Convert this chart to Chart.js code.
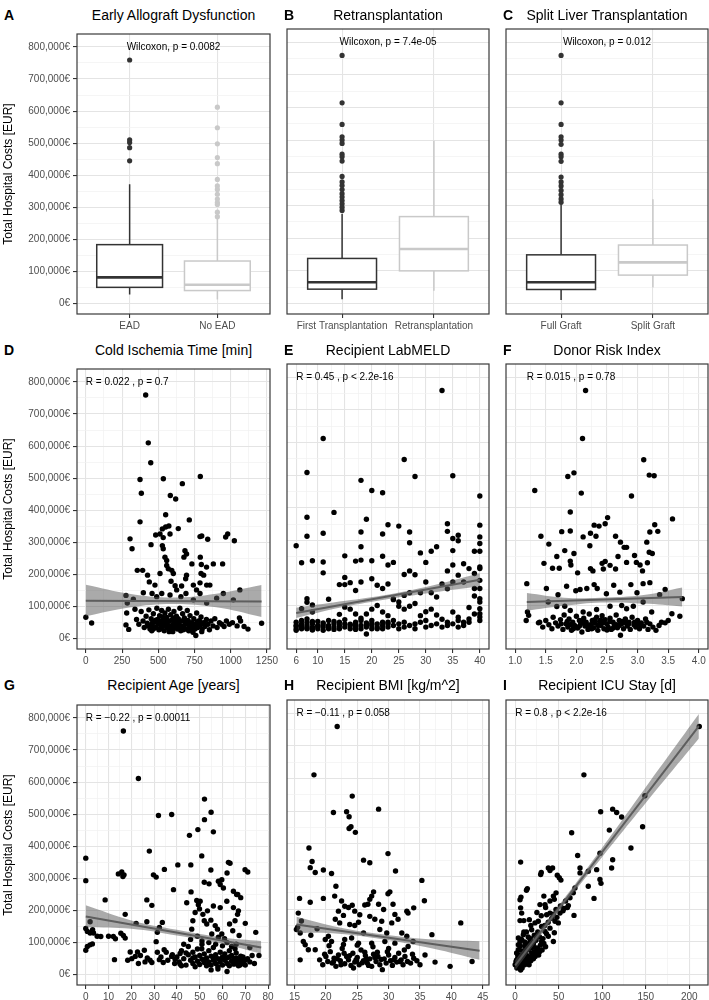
<!DOCTYPE html>
<html>
<head>
<meta charset="utf-8">
<script src="https://cdn.jsdelivr.net/npm/chart.js@4.4.0/dist/chart.umd.min.js"></script>
<style>
  body { margin: 0; background: #fff; }
  #fig { position: relative; width: 709px; height: 1000px; overflow: hidden; background: #fff;
         font-family: "Liberation Sans", Arial, sans-serif; }
  #fig canvas { position: absolute; }
  .ttl { position: absolute; height: 16px; line-height: 16px; font-size: 14px; color: #000;
         white-space: nowrap; transform: translateX(-50%); }
  .tag { position: absolute; height: 16px; line-height: 16px; font-size: 14px; font-weight: bold; color: #000; }
</style>
</head>
<body>
<div id="fig"></div>
<script>
// ---- values (costs in thousand EUR) ----
const costTicks = [0, 100, 200, 300, 400, 500, 600, 700, 800];

// box plots: [lower whisker, Q1, median, Q3, upper whisker]
const eadGroups = ['EAD', 'No EAD'];
const eadStats = [[29, 51, 82, 184, 372], [13, 41, 59, 133, 265]];
const eadOutliers = [[759, 510, 502, 486, 445],
  [612, 548, 498, 455, 436, 387, 367, 356, 341, 326, 315, 309, 285, 271]];

const retxGroups = ['First Transplantation', 'Retransplantation'];
const retxStats = [[13, 44, 65, 138, 275], [39, 100, 167, 266, 498]];
const retxOutliers = [[759, 614, 548, 510, 500, 490, 457, 449, 436, 389, 372, 361, 349, 336, 326, 315, 305, 295, 285], []];

const splitGroups = ['Full Graft', 'Split Graft'];
const splitStats = [[11, 43, 65, 149, 305], [49, 87, 126, 179, 319]];
const splitOutliers = [[759, 614, 548, 510, 500, 487, 457, 449, 435, 387, 372, 360, 346, 333, 320, 310], []];

const testLabels = ['Wilcoxon, p = 0.0082', 'Wilcoxon, p = 7.4e-05', 'Wilcoxon, p = 0.012'];
const corLabels = ['R = 0.022 , p = 0.7', 'R = 0.45 , p < 2.2e-16', 'R = 0.015 , p = 0.78',
  'R = \u22120.22 , p = 0.00011', 'R = \u22120.11 , p = 0.058', 'R = 0.8 , p < 2.2e-16'];

// D: cold ischemia time [min] vs cost
const ischemia = [[413,759],[431,610],[448,548],[374,496],[383,453],[535,498],[666,483],[583,446],[620,435],[714,370],
  [305,311],[319,280],[450,293],[374,364],[551,386],[790,505],
  [482,323],[512,326],[528,342],[551,348],[573,351],[638,343],[581,326],[534,315],[528,290],[534,280],[684,274],[695,264],
  [677,254],[788,318],[800,320],[841,310],[965,317],[979,326],[1025,305],[790,254],[797,231],[795,203],[833,223],[880,233],[944,233],
  [355,213],[392,213],[426,198],[438,177],[477,167],[512,203],[546,254],[558,244],[558,228],[569,218],[593,213],[604,203],
  [588,179],[616,165],[661,164],[689,187],[695,198],[732,233],[742,167],[764,152],[788,174],[834,167],[856,167],[813,198],[1063,152],
  [277,135],[286,111],[328,123],[397,143],[457,141],[489,131],[524,141],[581,136],[627,152],[656,131],[691,141],[742,121],
  [788,141],[834,111],[903,126],[949,141],[1018,121],
  [0,67],[40,49],[277,43],[296,29],[282,80],[339,92],
  [350,60],[366,45],[382,85],[395,55],[403,35],[416,70],[424,48],[435,90],[443,30],[451,62],[458,42],[466,78],[474,52],[482,35],
  [490,95],[496,60],[504,28],[509,72],[516,45],[523,88],[528,38],[535,58],[541,25],[546,80],[551,47],[558,66],[564,34],[570,92],
  [576,55],[581,40],[586,75],[592,28],[597,60],[602,45],[608,85],[614,35],[619,52],[625,70],[632,30],[638,62],[643,42],[649,95],
  [655,25],[661,55],[668,78],[674,38],[680,65],[687,48],[693,30],[700,88],[706,57],[712,40],[719,72],[725,32],[731,50],[739,20],
  [745,62],[753,45],[759,10],[765,80],[772,35],[779,55],[787,42],[795,68],[803,30],[811,50],[822,38],[832,60],[843,45],[853,28],
  [864,55],[878,40],[890,62],[906,35],[922,50],[938,45],[954,38],[970,55],[990,45],[1012,50],[1044,40],[1060,65],[1092,38],
  [1119,30],[1068,55],[1213,48],
  [466,30],[498,45],[530,68],[562,50],[594,38],[626,48],[658,40],[690,58],[721,48],[753,30],[785,55],[817,45],[482,58],[514,30],
  [546,55],[578,30],[609,65],[641,50],[673,28],[705,45],[737,38],[768,52],[430,40],[455,25],[520,35],[600,22],[650,35],[710,25],
  [760,40],[800,22],[460,50],[545,42],[630,55],[700,50],[575,22],[520,55]];
const ischemiaFit = [[0,118],[1213,116]];
const ischemiaBandX = [0, 300, 600, 900, 1213];
const ischemiaBandLo = [70, 97, 108, 98, 68];
const ischemiaBandHi = [168, 140, 128, 140, 167];

// E: recipient labMELD vs cost
const meld = [[33,759],[11,612],[26,548],[8,508],[35,498],[28,496],[18,484],[20,453],[22,446],[13,386],[8,371],[8,313],[11,322],
  [19,365],[18,326],[23,348],[22,320],[25,344],[27,326],[27,293],[6,284],[7,232],[9,238],[11,234],[11,201],[15,253],[17,237],
  [18,281],[18,240],[20,238],[22,252],[23,225],[24,233],[26,196],[27,207],[28,195],[29,262],[30,233],[31,267],[32,281],[34,351],
  [34,328],[35,306],[36,316],[36,299],[35,269],[35,225],[37,229],[34,207],
  [15,187],[14,165],[15,165],[16,171],[17,147],[18,173],[20,183],[21,163],[22,153],[23,167],[24,121],[25,112],[26,132],[27,140],
  [28,107],[29,140],[30,173],[31,140],[32,127],[33,167],[34,152],[35,173],[36,194],[37,173],
  [7,91],[8,122],[8,111],[9,103],[9,81],[12,120],[14,74],[15,96],[16,90],[17,75],[18,62],[19,75],[20,90],[21,101],[22,81],[23,70],
  [24,119],[25,99],[26,90],[27,99],[29,70],[30,82],[31,90],[32,72],[33,59],[35,81],[36,65],[37,50],
  [40,436],[40,347],[40,311],[40,291],[40,267],[40,219],[40,214],[40,178],[40,153],[40,122],[40,112],[40,91],[40,76],[40,66],[40,55],
  [39,267],[38,214],[39,199],[39,153],[39,130],[38,95],[39,75],[38,60],
  [6,40],[6,30],[6,50],[6,25],[7,35],[7,45],[7,30],[7,55],[8,40],[8,30],[8,50],[8,60],[9,35],[9,45],[9,28],[10,40],[10,30],[10,52],
  [11,35],[11,48],[11,25],[12,40],[12,55],[12,30],[13,35],[13,45],[14,30],[14,50],[14,40],[15,35],[15,45],[15,58],[16,40],[16,30],
  [17,35],[17,50],[17,45],[18,40],[18,30],[18,55],[19,14],[19,35],[19,48],[20,40],[20,30],[20,55],[21,35],[21,45],[22,40],[22,50],
  [22,30],[23,35],[23,45],[24,40],[24,55],[25,30],[25,45],[26,35],[26,50],[27,40],[28,45],[28,30],[29,50],[30,35],[30,55],[31,40],
  [32,45],[33,35],[34,50],[34,40],[35,45],[36,35],[36,55],[37,40],[38,50],
  [6,38],[7,42],[8,33],[9,52],[10,36],[11,42],[12,34],[13,52],[16,44],[17,38],[19,42],[20,46],[21,30],[23,50],[17,28],[13,28],[9,26]];
const meldFit = [[6,78],[40,180]];
const meldBandX = [6, 14, 22, 30, 40];
const meldBandLo = [63, 94, 118, 138, 160];
const meldBandHi = [94, 113, 132, 158, 200];

// F: donor risk index vs cost
const dri = [[2.15,759],[2.10,612],[3.10,547],[3.19,500],[3.27,498],[1.86,496],[1.96,507],[2.08,445],[1.32,453],[2.90,436],
  [1.90,387],[3.57,366],[1.42,313],[1.55,289],[1.76,327],[1.90,329],[2.11,311],[2.23,322],[2.29,347],[2.37,344],[2.32,313],
  [2.47,351],[2.51,370],[2.22,284],[2.64,313],[2.72,295],[2.78,279],[2.82,279],[2.68,251],[2.95,254],[3.15,295],[3.28,348],
  [3.33,328],[3.20,326],[3.19,264],[3.24,260],[1.47,230],[1.61,215],[1.72,215],[1.68,251],[1.81,269],[1.90,237],[1.91,225],
  [1.96,260],[2.02,201],[2.23,214],[2.27,207],[2.44,213],[2.42,230],[2.47,236],[2.55,224],[2.64,213],[2.82,233],[2.98,233],
  [3.04,225],[3.08,207],[3.16,232],[3.09,168],[1.19,168],[1.51,153],[1.70,134],[1.84,160],[1.99,146],[2.06,150],[2.17,153],
  [2.29,165],[2.34,153],[2.49,137],[2.61,163],[2.71,142],[2.89,165],[2.99,140],[3.20,171],[3.45,150],[3.36,134],[3.56,76],
  [3.69,68],[3.73,122],[2.93,99],[2.82,91],[1.20,81],[1.22,71],[1.18,55],[1.40,50],[1.54,112],[1.68,98],[1.81,99],[1.90,86],
  [2.11,81],[2.33,89],[2.55,99],[2.74,101],[3.09,112],[3.23,81],[3.39,50],
  [1.38,48],[1.45,35],[1.5,55],[1.55,42],[1.6,30],[1.62,65],[1.66,48],[1.7,38],[1.74,58],[1.78,28],[1.8,72],[1.83,45],[1.86,35],
  [1.88,60],[1.92,25],[1.94,50],[1.97,40],[2.0,68],[2.02,32],[2.05,55],[2.07,45],[2.09,20],[2.12,62],[2.14,38],[2.16,50],
  [2.19,28],[2.21,75],[2.23,42],[2.26,55],[2.28,33],[2.3,48],[2.33,65],[2.35,25],[2.38,52],[2.4,40],[2.42,70],[2.45,30],
  [2.47,58],[2.5,45],[2.52,35],[2.55,62],[2.57,28],[2.6,50],[2.62,40],[2.65,72],[2.67,33],[2.7,55],[2.72,10],[2.74,45],[2.77,30],
  [2.8,60],[2.83,38],[2.86,50],[2.88,28],[2.91,65],[2.94,42],[2.97,35],[3.0,55],[3.03,30],[3.06,48],[3.1,38],[3.13,60],[3.17,28],
  [3.2,45],[3.25,35],[3.3,25],[3.35,40],[3.45,48],[3.5,55],
  [1.75,45],[1.85,52],[1.95,30],[2.05,38],[2.15,45],[2.25,30],[2.35,40],[2.45,48],[2.55,52],[2.65,42],[2.75,52],[2.85,44],
  [2.95,50],[3.05,40],[3.15,50],[2.1,52],[2.2,36],[2.4,56],[2.6,32],[2.8,48],[1.9,42],[2.3,58],[2.5,26],[2.7,40],[3.0,45]];
const driFit = [[1.19,112],[3.73,127]];
const driBandX = [1.19, 1.8, 2.4, 3.1, 3.73];
const driBandLo = [85, 100, 110, 107, 98];
const driBandHi = [139, 125, 125, 133, 156];

// G: recipient age [years] vs cost
const age = [[16.5,759],[23.1,611],[31.9,496],[37.7,499],[52.1,547],[55,506],[52.1,483],[56,445],[49.2,452],[45.5,434],
  [50.9,370],[0,363],[0,293],[27.9,385],[14.3,314],[15.8,320],[16.8,311],[16.3,306],[29.7,311],[30.9,304],[34.5,328],[40.4,342],
  [46.1,342],[38.5,265],[54.9,326],[62.6,350],[63.3,347],[62,317],[52,288],[54.1,283],[58.2,291],[59,281],[59.7,296],[60.4,270],
  [64.8,260],[66.7,250],[8.5,233],[26.8,233],[29,216],[17.3,188],[1.9,165],[0,144],[0.7,135],[1.9,130],[3.4,130],[6.6,119],
  [12.1,119],[15.4,129],[16.5,122],[17.3,114],[22.1,160],[26.8,165],[33.6,163],[32.3,147],[31.4,132],[30.9,103],[0.7,88],[0,76],
  [1.9,93],[2.9,96],[12.6,47],[18.4,45],[20.2,50],[21.7,57],[19.5,71],[23.1,35],[22.7,71],[25.7,76],[28.2,45],[29,38],[31.4,70],
  [32.3,47],[34.4,78],[35.3,70],[39.2,48],[37.7,57],[41.4,66],[41.4,33],[42,28],[44.3,224],[46.2,258],[48.7,231],[49.4,218],
  [49.9,205],[46.5,142],[49,120],[50.9,81],[52,168],[53.1,158],[54.9,170],[56.8,153],[57.8,142],[55.3,127],[58.2,117],
  [59.7,127],[60.9,112],[63.1,158],[64.5,137],[65.5,168],[66.6,188],[67.3,122],[64.8,209],[61.9,229],[59,209],[56,214],
  [53.4,199],[51.4,188],[50.2,229],[48,194],[47,168],[69.9,327],[71.1,320],[66.2,250],[67,199],[74.6,132],[65.5,81],[67.7,30],
  [76,60],[72,85],[70,160],[68,240],
  [40,55],[41,40],[42,75],[43,50],[44,30],[45,62],[45,88],[46,45],[47,35],[47,70],[48,55],[48,25],[49,80],[49,42],[50,60],
  [50,32],[51,48],[51,95],[52,38],[52,65],[53,28],[53,52],[54,75],[54,40],[55,58],[55,30],[56,45],[56,85],[57,35],[57,62],
  [58,50],[58,25],[59,70],[59,40],[60,55],[60,30],[60,90],[61,45],[61,65],[62,35],[62,52],[63,28],[63,75],[64,42],[64,60],
  [65,33],[65,50],[66,68],[66,38],[67,48],[67,28],[68,58],[68,40],[69,35],[69,55],[70,45],[70,30],[71,50],[72,40],[73,60],
  [74,35],[62,10],[55,15],[58,18],
  [43,95],[46,110],[51,105],[54,100],[57,95],[62,100],[64,88],[66,95],[44,68],[47,52],[52,45],[56,52],[59,48],[63,55],[66,52],
  [69,45],[36,45],[38,62],[39,35],[33,55],[27,52],[24,60],[26,40],[34,38],[5,120],[3,140],[10,120],[13,112]];
const ageFit = [[0,181],[77,85]];
const ageBandX = [0, 20, 40, 60, 77];
const ageBandLo = [148, 143, 122, 96, 66];
const ageBandHi = [216, 169, 140, 116, 105];

// H: recipient BMI [kg/m^2] vs cost
const bmi = [[21.8,759],[18.1,611],[24.2,546],[21.2,496],[23.3,498],[23.7,483],[24,452],[23.7,447],[24.7,435],[28.4,506],
  [17.3,387],[17.8,346],[17.5,327],[18.3,312],[19.6,320],[20.9,309],[21.6,270],[26,350],[27,342],[29.9,370],[31.1,317],
  [35.3,288],[35.7,226],[41.5,158],[43.3,40],[39.8,25],[37.4,38],[36.9,122],[35.8,60],[15.8,233],[15.6,188],[16.1,164],
  [15.3,138],[15.5,145],[15.9,127],[16.4,101],[16.7,91],[17.2,76],[15.9,45],[18.3,76],[17.5,221],[19.6,233],[21.4,240],
  [22.5,225],[23,209],[22,194],[22.8,181],[23.6,205],[24.2,212],[24.6,194],[25.4,183],[26.2,213],[26.7,215],[27,230],
  [27.3,240],[27.6,253],[28.4,215],[29.2,199],[29.9,247],[30.2,253],[30.7,215],[31,184],[31.5,169],[32.9,194],[33.1,188],
  [34,204],[27,178],[27.8,169],[28.9,163],[30.5,158],[28.6,138],[29.7,127],[32.1,127],[32.9,117],[33.9,101],[33.1,86],
  [21.5,169],[22.2,158],[23.8,153],[24.6,150],[25.2,160],[26,127],[20.4,117],[19.9,107],[20.9,101],[23,107],[24.1,112],
  [25.2,96],[27.3,96],[29.4,101],[31,96],[18.6,140],[17.6,120],
  [19,45],[19.5,30],[20,55],[20.3,40],[20.7,70],[21,35],[21.3,50],[21.6,25],[22,60],[22.3,42],[22.6,80],[23,33],[23.3,55],
  [23.6,45],[24,28],[24.3,65],[24.6,38],[25,52],[25.3,30],[25.6,75],[26,42],[26.3,58],[26.6,35],[27,48],[27.3,25],[27.6,62],
  [28,40],[28.3,55],[28.6,30],[29,15],[29.3,48],[29.6,35],[30,60],[30.3,42],[30.6,28],[31,52],[31.3,38],[31.6,65],[32,45],
  [32.3,30],[32.6,55],[33,40],[33.5,35],[34,50],[34.5,42],[35,30],[20.5,88],[22.8,92],[25,90],[27.5,85],[30,80],[32.5,75],
  [21.8,48],[24.8,45],[26.8,28],[28.8,46],[23.8,58],[19.8,62],[26.2,68],[22.4,30],[29.8,70],[31.8,40],[25.8,36],[33.8,62],
  [24.4,20],[27.8,52],[30.8,45],[28.2,68],[21.2,38],[22.9,65],[26.5,48],[24.9,42]];
const bmiFit = [[15.3,153],[44.5,73]];
const bmiBandX = [15.3, 22, 29, 37, 44.5];
const bmiBandLo = [128, 125, 108, 80, 45];
const bmiBandHi = [177, 145, 123, 107, 102];

// I: recipient ICU stay [d] vs cost
const icu = [[211.5,759],[79,611],[149,547],[98.2,498],[112,506],[116.6,496],[122.3,482],[146.4,452],[108.2,442],[64.9,434],
  [133,387],[6.3,344],[71.8,364],[97.4,371],[112,351],[110.8,326],[38.1,326],[43,326],[40,318],[29.3,306],[30,312],[48.4,304],
  [50.7,296],[52.6,289],[74.5,326],[74.5,311],[84,316],[93.6,321],[97.4,291],[98.6,279],[14,263],[13,258],[6.7,237],[5.6,229],
  [6.3,204],[7.5,188],[84,270],[68.7,265],[66.8,250],[63,235],[90.6,233],[67.6,181],[28.5,214],[34.3,214],[40,225],[43.9,240],
  [47,250],[36.2,183],[40,188],[46.9,199],[51.5,188],[56.1,202],[61.1,211],[5.6,165],[10,165],[16.3,168],[9.4,122],[13,130],
  [19,137],[22.8,158],[26.6,163],[30.4,147],[34.3,132],[40,142],[45.8,163],[49.6,158],[45,128],[38.1,117],[43.9,101],[30.4,101],
  [24.7,117],[20.9,86],[17.1,107],[11.3,86],[5.6,101],[3.7,76],[1.7,66],[0,30],[1.7,45],[5.6,55],[9.4,45],[7.5,25],[6.3,14],
  [11.3,66],[15.1,76],[19,66],[24.7,81],[28,70],[3.7,91],[7.5,107],[12,95],[3.7,112],[10,130],
  [2,35],[3,50],[4,40],[5,28],[6,45],[7,60],[8,35],[9,55],[10,42],[11,30],[12,50],[13,38],[14,58],[15,45],[16,30],[17,52],
  [18,42],[20,60],[21,48],[22,70],[23,55],[25,65],[26,80],[27,60],[29,90],[31,75],[33,95],[35,85],[2,20],[4,25],[8,20],[10,32],
  [12,72],[14,85],[16,95],[18,110],[20,98],[22,120],[24,105],[26,130],[28,115],[32,110],[34,150],[36,125],[38,160],[42,172],
  [44,185],[48,175],[52,210],[55,195],[58,225],[60,205],[35,205],[30,180],[25,190],[33,240],[45,230],[18,150],[15,115],[11,100],
  [5,75],[3,60],[1,40],[6,88],[9,72],[13,48],[19,82],[21,95]];
const icuFit = [[0,28],[211,760]];
const icuBandX = [0, 50, 100, 150, 211];
const icuBandLo = [12, 192, 360, 525, 722];
const icuBandHi = [44, 211, 388, 573, 797];

// x tick values and labels
const ischemiaTicks = [0, 250, 500, 750, 1000, 1250];
const meldTicks = [6, 10, 15, 20, 25, 30, 35, 40];
const driTicks = [1, 1.5, 2, 2.5, 3, 3.5, 4];
const driTickLabels = ['1.0', '1.5', '2.0', '2.5', '3.0', '3.5', '4.0'];
const ageTicks = [0, 10, 20, 30, 40, 50, 60, 70, 80];
const bmiTicks = [15, 20, 25, 30, 35, 40, 45];
const icuTicks = [0, 50, 100, 150, 200];

// ---- layout ----
const FONT = '"Liberation Sans", Arial, sans-serif';
const GRID_MAJOR = '#e4e4e4';
const GRID_MINOR = '#f1f1f1';
const DARK = '#333333';
const LIGHT = '#c9c9c9';
const COLS = [[77, 270], [287, 489], [506, 708]];
const ROWS = [[29, 314], [364, 649], [700, 985]];
const TITLE_Y = [15, 350, 685];
const fig = document.getElementById('fig');

function withMinors(major) {
  const out = major.map(v => ({ value: v }));
  for (let i = 0; i < major.length - 1; i++) {
    out.push({ value: (major[i] + major[i + 1]) / 2, minor: true });
  }
  return out.sort((a, b) => a.value - b.value);
}

function gridOpts(ticksOn) {
  return {
    color: c => (c.tick && c.tick.minor) ? GRID_MINOR : GRID_MAJOR,
    lineWidth: c => (c.tick && c.tick.minor) ? 0.7 : 1.1,
    tickColor: c => (c.tick && c.tick.minor) ? 'rgba(0,0,0,0)' : DARK,
    tickLength: 4,
    drawTicks: ticksOn
  };
}

function xAxis(min, max, ticks, label) {
  return {
    type: 'linear', min: min, max: max,
    afterBuildTicks: s => { s.ticks = ticks.map(t => Object.assign({}, t)); },
    afterFit: s => { s.height = 22; },
    border: { display: false },
    grid: gridOpts(true),
    ticks: {
      autoSkip: false, maxRotation: 0, padding: 2, color: '#4d4d4d',
      font: { family: FONT, size: 10 },
      callback: (v, i, ts) => ts[i].minor ? '' : label(v)
    }
  };
}

function yAxis(first) {
  return {
    type: 'linear', min: -32, max: 840,
    afterBuildTicks: s => { s.ticks = withMinors(costTicks); },
    afterFit: s => { s.width = first ? 77 : 16; },
    border: { display: false },
    grid: gridOpts(first),
    ticks: {
      display: first, padding: 3, color: '#4d4d4d',
      font: { family: FONT, size: 10 },
      callback: (v, i, ts) => ts[i].minor ? '' : (v * 1000).toLocaleString('en-US') + '\u20ac'
    },
    title: {
      display: first, text: 'Total Hospital Costs [EUR]', color: '#000',
      font: { family: FONT, size: 12 }, padding: { top: 1, bottom: 0 }
    }
  };
}

const framePlugin = {
  id: 'frame',
  afterDraw(chart) {
    const a = chart.chartArea, ctx = chart.ctx;
    ctx.save();
    ctx.strokeStyle = '#3a3a3a';
    ctx.lineWidth = 1.2;
    ctx.strokeRect(a.left, a.top, a.right - a.left, a.bottom - a.top);
    ctx.restore();
  }
};

function notePlugin(text, xv, align) {
  return {
    id: 'note',
    afterDatasetsDraw(chart) {
      const ctx = chart.ctx;
      ctx.save();
      ctx.font = '10px ' + FONT;
      ctx.fillStyle = '#000';
      ctx.textAlign = align;
      ctx.textBaseline = 'middle';
      ctx.fillText(text, chart.scales.x.getPixelForValue(xv), chart.scales.y.getPixelForValue(800));
      ctx.restore();
    }
  };
}

function boxPlugin(stats, colors) {
  return {
    id: 'boxes',
    beforeDatasetsDraw(chart) {
      const ctx = chart.ctx, x = chart.scales.x, y = chart.scales.y;
      stats.forEach((s, i) => {
        const c = i + 1;
        const x0 = x.getPixelForValue(c - 0.375), x1 = x.getPixelForValue(c + 0.375);
        const xm = x.getPixelForValue(c);
        const p = s.map(v => y.getPixelForValue(v));
        ctx.save();
        ctx.strokeStyle = colors[i];
        ctx.lineWidth = 1.5;
        ctx.beginPath();
        ctx.moveTo(xm, p[0]); ctx.lineTo(xm, p[1]);
        ctx.moveTo(xm, p[3]); ctx.lineTo(xm, p[4]);
        ctx.stroke();
        ctx.fillStyle = '#fff';
        ctx.fillRect(x0, p[3], x1 - x0, p[1] - p[3]);
        ctx.strokeRect(x0, p[3], x1 - x0, p[1] - p[3]);
        ctx.lineWidth = 2.6;
        ctx.beginPath();
        ctx.moveTo(x0, p[2]); ctx.lineTo(x1, p[2]);
        ctx.stroke();
        ctx.restore();
      });
    }
  };
}

function addText(cls, text, left, top) {
  const d = document.createElement('div');
  d.className = cls;
  d.textContent = text;
  d.style.left = left + 'px';
  d.style.top = top + 'px';
  fig.appendChild(d);
}

function makePanel(col, row, tag, title, datasets, xScale, plugins) {
  const l = COLS[col][0], r = COLS[col][1], t = ROWS[row][0], b = ROWS[row][1];
  const lead = col === 0 ? 77 : 16;
  const cx = l - lead, cy = t - 4;
  const w = r - cx + 20, h = b - cy + 22;
  const cv = document.createElement('canvas');
  cv.width = w; cv.height = h;
  cv.style.left = cx + 'px'; cv.style.top = cy + 'px';
  cv.style.width = w + 'px'; cv.style.height = h + 'px';
  fig.appendChild(cv);

  addText('ttl', title, (l + r) / 2, TITLE_Y[row] - 8);
  addText('tag', tag, col === 0 ? 4 : l - 3, TITLE_Y[row] - 8);

  new Chart(cv, {
    type: 'scatter',
    data: { datasets: datasets },
    options: {
      responsive: false, animation: false, events: [],
      layout: { padding: { left: 0, top: 4, right: 20, bottom: 0 } },
      plugins: { legend: { display: false }, tooltip: { enabled: false } },
      scales: { x: xScale, y: yAxis(col === 0) }
    },
    plugins: [framePlugin].concat(plugins)
  });
}

function boxPanel(col, row, tag, title, groups, stats, outliers, note) {
  const colors = [DARK, LIGHT];
  const sets = outliers.map((o, i) => ({
    data: o.map(v => ({ x: i + 1, y: v })),
    backgroundColor: colors[i], borderWidth: 0, pointRadius: 2.6
  }));
  const ticks = groups.map((g, i) => ({ value: i + 1 }));
  makePanel(col, row, tag, title, sets,
    xAxis(0.4, 2.6, ticks, v => groups[Math.round(v) - 1]),
    [boxPlugin(stats, colors), notePlugin(note, 1.5, 'center')]);
}

function scatterPanel(col, row, tag, title, pts, fit, bx, blo, bhi, xr, majors, labels, note) {
  const sets = [
    { type: 'line', data: fit.map(p => ({ x: p[0], y: p[1] })), borderColor: '#5e5e5e',
      borderWidth: 2, pointRadius: 0, order: 1 },
    { type: 'line', data: bx.map((x, i) => ({ x: x, y: bhi[i] })), borderColor: 'rgba(0,0,0,0)',
      borderWidth: 0, pointRadius: 0, tension: 0.4, fill: '+1',
      backgroundColor: 'rgba(85,85,85,0.5)', order: 2 },
    { type: 'line', data: bx.map((x, i) => ({ x: x, y: blo[i] })), borderColor: 'rgba(0,0,0,0)',
      borderWidth: 0, pointRadius: 0, tension: 0.4, fill: false, order: 2 },
    { data: pts.map(p => ({ x: p[0], y: p[1] })), backgroundColor: '#000', borderWidth: 0,
      pointRadius: 2.7, order: 3 }
  ];
  const lab = v => labels ? labels[majors.indexOf(v)] : String(v);
  makePanel(col, row, tag, title, sets, xAxis(xr[0], xr[1], withMinors(majors), lab),
    [notePlugin(note, fit[0][0], 'left')]);
}

boxPanel(0, 0, 'A', 'Early Allograft Dysfunction', eadGroups, eadStats, eadOutliers, testLabels[0]);
boxPanel(1, 0, 'B', 'Retransplantation', retxGroups, retxStats, retxOutliers, testLabels[1]);
boxPanel(2, 0, 'C', 'Split Liver Transplantation', splitGroups, splitStats, splitOutliers, testLabels[2]);

scatterPanel(0, 1, 'D', 'Cold Ischemia Time [min]', ischemia, ischemiaFit, ischemiaBandX, ischemiaBandLo,
  ischemiaBandHi, [-61, 1271], ischemiaTicks, null, corLabels[0]);
scatterPanel(1, 1, 'E', 'Recipient LabMELD', meld, meldFit, meldBandX, meldBandLo, meldBandHi,
  [4.3, 41.7], meldTicks, null, corLabels[1]);
scatterPanel(2, 1, 'F', 'Donor Risk Index', dri, driFit, driBandX, driBandLo, driBandHi,
  [0.85, 4.15], driTicks, driTickLabels, corLabels[2]);
scatterPanel(0, 2, 'G', 'Recipient Age [years]', age, ageFit, ageBandX, ageBandLo, ageBandHi,
  [-3.85, 80.85], ageTicks, null, corLabels[3]);
scatterPanel(1, 2, 'H', 'Recipient BMI [kg/m^2]', bmi, bmiFit, bmiBandX, bmiBandLo, bmiBandHi,
  [13.8, 46], bmiTicks, null, corLabels[4]);
scatterPanel(2, 2, 'I', 'Recipient ICU Stay [d]', icu, icuFit, icuBandX, icuBandLo, icuBandHi,
  [-10.5, 221.5], icuTicks, null, corLabels[5]);
</script>
</body>
</html>
